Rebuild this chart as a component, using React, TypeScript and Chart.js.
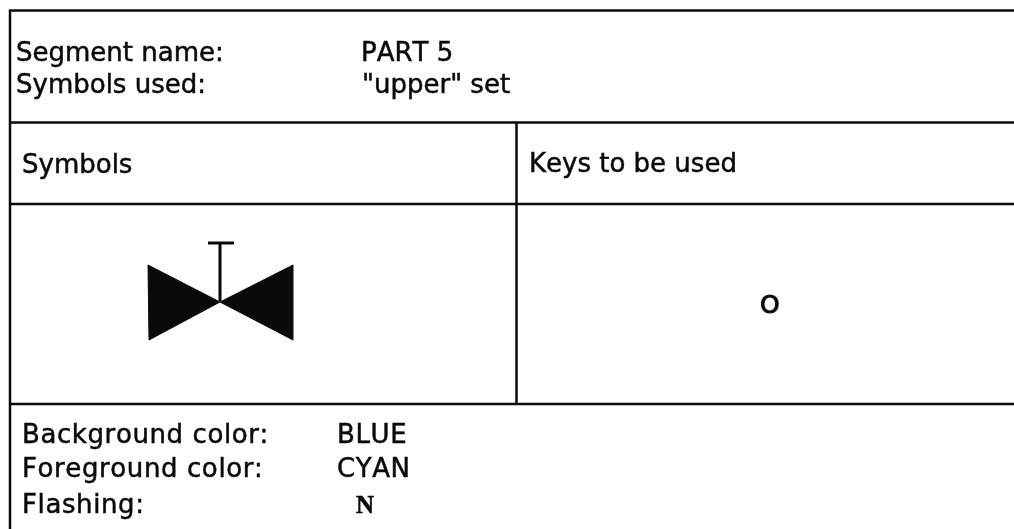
import React, { useEffect, useRef } from "react";
import { Chart, registerables } from "chart.js";

Chart.register(...registerables);

const INK = "#0a0a0a";
const SANS = '"DejaVu Sans", sans-serif';
const SERIF = '"Liberation Serif", serif';

type Pt = { x: number; y: number };

const ruleTop: Pt[] = [{ x: 9, y: 10.5 }, { x: 1014, y: 10.5 }];
const ruleHeader: Pt[] = [{ x: 9, y: 122.5 }, { x: 1014, y: 122.5 }];
const ruleColumns: Pt[] = [{ x: 9, y: 204 }, { x: 1014, y: 204 }];
const ruleBody: Pt[] = [{ x: 9, y: 404 }, { x: 1014, y: 404 }];
const ruleLeft: Pt[] = [{ x: 10, y: 10 }, { x: 10, y: 529 }];
const ruleSplit: Pt[] = [{ x: 516.5, y: 122 }, { x: 516.5, y: 404 }];

const valveBar: Pt[] = [{ x: 208, y: 243 }, { x: 234, y: 243 }];
const valveStem: Pt[] = [{ x: 220, y: 243 }, { x: 220, y: 301 }];
const valveLeft: Pt[] = [{ x: 148, y: 265 }, { x: 220, y: 302 }, { x: 149, y: 340 }, { x: 148, y: 265 }];
const valveRight: Pt[] = [{ x: 293, y: 265 }, { x: 220, y: 302 }, { x: 293, y: 340 }, { x: 293, y: 265 }];

const sansLabels: [string, number, number][] = [
  ["Segment name:", 16, 61],
  ["Symbols used:", 16, 93],
  ["PART 5", 361, 61],
  ['"upper" set', 362, 93],
  ["Symbols", 22, 173],
  ["Keys to be used", 529, 172],
];
const footerLabels: [string, number, number][] = [
  ["Background color:", 22, 442.5],
  ["Foreground color:", 22, 477],
  ["Flashing:", 22, 512.5],
  ["BLUE", 337, 442.5],
  ["CYAN", 337, 477],
];
const keyLabels: [string, number, number][] = [["O", 760, 313]];
const serifLabels: [string, number, number][] = [["N", 356, 512.5]];

const rules = [ruleTop, ruleHeader, ruleColumns, ruleBody, ruleLeft, ruleSplit];
const strokes = [valveBar, valveStem];
const solids = [valveLeft, valveRight];

const textPlugin = {
  id: "tableText",
  afterDatasetsDraw(chart: any) {
    const { ctx, scales } = chart;
    const put = (t: string, x: number, y: number) => {
      const px = scales.x.getPixelForValue(x);
      const py = scales.y.getPixelForValue(y);
      ctx.fillText(t, px, py);
      ctx.strokeText(t, px, py);
    };
    ctx.save();
    ctx.fillStyle = INK;
    ctx.strokeStyle = INK;
    ctx.lineWidth = 0.5;
    ctx.textBaseline = "alphabetic";
    ctx.textAlign = "left";
    ctx.fontKerning = "none";
    ctx.font = `26px ${SANS}`;
    sansLabels.forEach(([t, x, y]) => put(t, x, y));
    ctx.letterSpacing = "0.6px";
    footerLabels.forEach(([t, x, y]) => put(t, x, y));
    ctx.letterSpacing = "0px";
    ctx.lineWidth = 1;
    ctx.font = `25px ${SANS}`;
    keyLabels.forEach(([t, x, y]) => put(t, x, y));
    ctx.lineWidth = 0.5;
    ctx.font = `bold 25px ${SERIF}`;
    serifLabels.forEach(([t, x, y]) => put(t, x, y));
    ctx.restore();
  },
};

export default function App() {
  const ref = useRef<HTMLCanvasElement>(null);
  useEffect(() => {
    document.body.style.margin = "0";
    document.body.style.background = "#fff";
    const line = (data: Pt[], width: number) => ({
      data,
      showLine: true,
      borderColor: INK,
      borderWidth: width,
      pointRadius: 0,
      tension: 0,
      fill: false,
    });
    const chart = new Chart(ref.current!, {
      type: "scatter",
      data: {
        datasets: [
          ...rules.map((r) => line(r, 2.5)),
          ...strokes.map((r) => line(r, 3)),
          ...solids.map((r) => ({ ...line(r, 1), backgroundColor: INK, fill: "shape" })),
        ],
      } as any,
      options: {
        animation: false,
        responsive: false,
        layout: { padding: 0 },
        plugins: { legend: { display: false }, tooltip: { enabled: false }, title: { display: false } },
        scales: {
          x: { type: "linear", min: 0, max: 1014, display: false },
          y: { type: "linear", min: 0, max: 529, reverse: true, display: false },
        },
      } as any,
      plugins: [textPlugin],
    });
    return () => chart.destroy();
  }, []);
  return <canvas ref={ref} width={1014} height={529} style={{ display: "block" }} />;
}
